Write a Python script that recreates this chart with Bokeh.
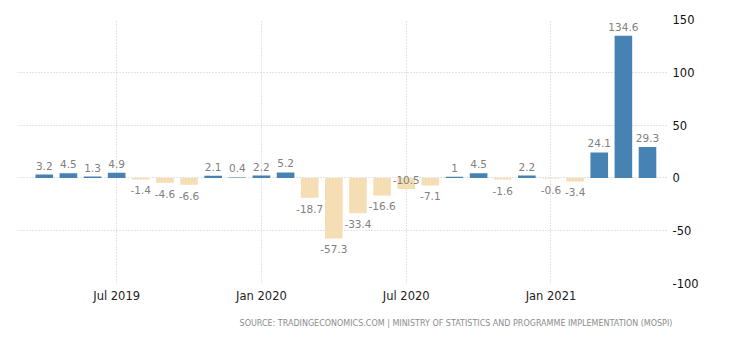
from bokeh.plotting import figure
from bokeh.models import FixedTicker, Range1d, ColumnDataSource, Title
from bokeh.core.properties import value
from bokeh.embed import file_html
from bokeh.resources import INLINE

months = ["Apr 2019", "May 2019", "Jun 2019", "Jul 2019", "Aug 2019", "Sep 2019",
          "Oct 2019", "Nov 2019", "Dec 2019", "Jan 2020", "Feb 2020", "Mar 2020",
          "Apr 2020", "May 2020", "Jun 2020", "Jul 2020", "Aug 2020", "Sep 2020",
          "Oct 2020", "Nov 2020", "Dec 2020", "Jan 2021", "Feb 2021", "Mar 2021",
          "Apr 2021", "May 2021"]
values = [3.2, 4.5, 1.3, 4.9, -1.4, -4.6, -6.6, 2.1, 0.4, 2.2, 5.2, -18.7,
          -57.3, -33.4, -16.6, -10.5, -7.1, 1, 4.5, -1.6, 2.2, -0.6, -3.4,
          24.1, 134.6, 29.3]
x_tick_labels = ["Jul 2019", "Jan 2020", "Jul 2020", "Jan 2021"]
y_ticks = [-100, -50, 0, 50, 100, 150]
source_text = "SOURCE: TRADINGECONOMICS.COM  |  MINISTRY OF STATISTICS AND PROGRAMME IMPLEMENTATION (MOSPI)"

POS = "#4682b4"
NEG = "#f5deb3"
FONT = "DejaVu Sans"

idx = list(range(len(months)))
colors = [POS if v >= 0 else NEG for v in values]
labels = [f"{v:g}" for v in values]

p = figure(width=730, height=340, x_range=Range1d(-1.11, 25.87),
           y_range=Range1d(-100, 150), output_backend="svg",
           toolbar_location=None, y_axis_location="right",
           min_border_left=17, min_border_right=62, min_border_top=19,
           min_border_bottom=57)
p.outline_line_color = None
p.background_fill_color = "white"
p.border_fill_color = "white"

bars = ColumnDataSource(dict(x=idx, top=values, color=colors))
p.vbar(x="x", top="top", bottom=0, width=0.73, fill_color="color",
       line_color=None, source=bars)

# value labels
nudged = {15}  # label lifted onto the zero line in the original to avoid overlap
pos = dict(x=[], y=[], t=[])
neg = dict(x=[], y=[], t=[])
mid = dict(x=[], y=[], t=[])
for i, v, t in zip(idx, values, labels):
    if i in nudged:
        mid["x"].append(i); mid["y"].append(0); mid["t"].append(t)
    elif v >= 0:
        pos["x"].append(i); pos["y"].append(v); pos["t"].append(t)
    else:
        neg["x"].append(i); neg["y"].append(v); neg["t"].append(t)

common = dict(text="t", text_font=value(FONT), text_font_size="10.5px",
              text_color="#808080", text_align="center")
p.text(x="x", y="y", source=ColumnDataSource(pos), text_baseline="bottom",
       y_offset=-5, **common)
p.text(x="x", y="y", source=ColumnDataSource(neg), text_baseline="top",
       y_offset=7, **common)
p.text(x="x", y="y", source=ColumnDataSource(mid), text_baseline="middle",
       y_offset=2, **common)

# axes
tick_pos = [months.index(m) for m in x_tick_labels]
p.xaxis.ticker = FixedTicker(ticks=tick_pos)
p.xaxis.major_label_overrides = {tp: lbl for tp, lbl in zip(tick_pos, x_tick_labels)}
p.yaxis.ticker = FixedTicker(ticks=y_ticks)
p.yaxis.major_label_overrides = {t: str(t) for t in y_ticks}
for ax in (p.xaxis, p.yaxis):
    ax.axis_line_color = None
    ax.major_tick_line_color = None
    ax.minor_tick_line_color = None
    ax.major_tick_out = 0
    ax.major_tick_in = 0
    ax.major_label_text_font = FONT
p.xaxis.major_label_text_font_size = "11.5px"
p.xaxis.major_label_text_color = "#222222"
p.xaxis.major_label_standoff = 5
p.yaxis.major_label_text_font_size = "11.5px"
p.yaxis.major_label_text_color = "#111111"
p.yaxis.major_label_standoff = 4

for g in (p.xgrid, p.ygrid):
    g.grid_line_color = "#c8c8c8"
    g.grid_line_dash = "1 2"
    g.grid_line_width = 1

src = Title(text=source_text, align="right", text_font=FONT,
            text_font_size="8px", text_color="#8c8c8c",
            text_font_style="normal", offset=-9, standoff=22)
p.add_layout(src, "below")

open("out.html", "w").write(file_html(p, INLINE))
